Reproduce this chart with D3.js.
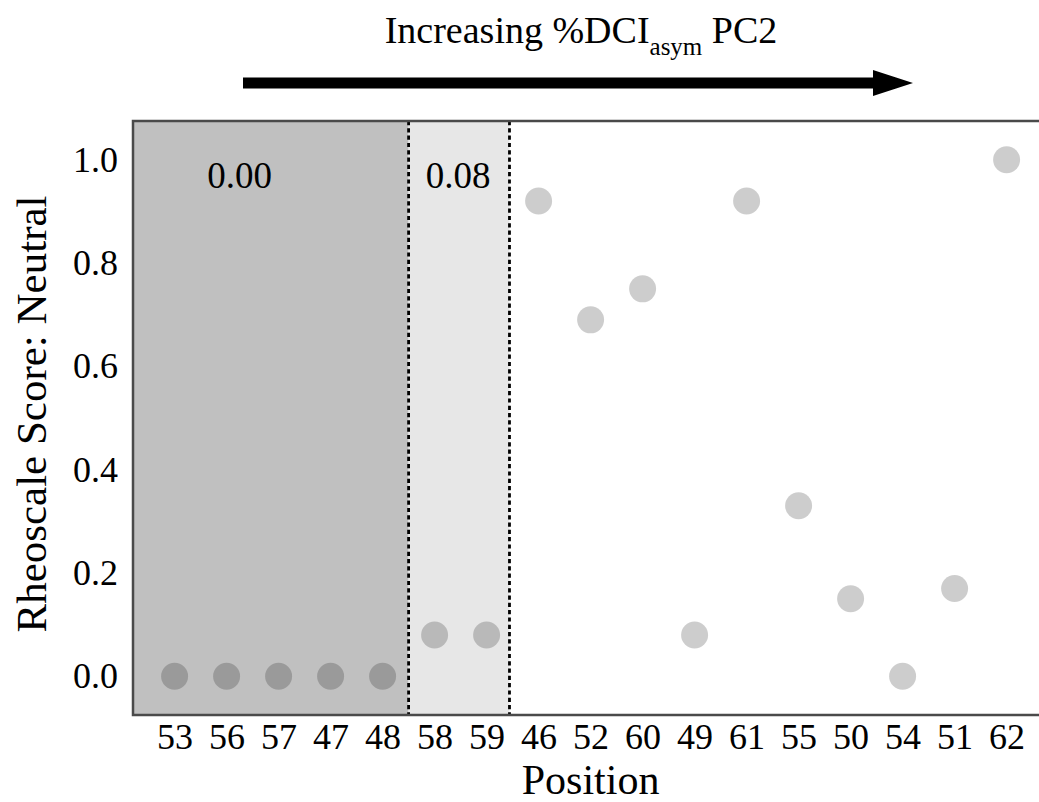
<!DOCTYPE html>
<head>
<style>
body { margin: 0; background: #fff; }
* { font-family: "Liberation Serif", "Times New Roman", serif; }
</style>
</head>
<body>
<svg width="1039" height="802"></svg>
<script src="https://cdnjs.cloudflare.com/ajax/libs/d3/7.8.5/d3.min.js"></script>
<script>

// positions, ordered by increasing %DCI_asym PC2
var positions = ["53","56","57","47","48","58","59","46","52","60","49","61","55","50","54","51","62"];
var scores    = [0, 0, 0, 0, 0, 0.08, 0.08, 0.92, 0.69, 0.75, 0.08, 0.92, 0.33, 0.15, 0, 0.17, 1.0];
var yTicks    = [0, 0.2, 0.4, 0.6, 0.8, 1.0];
// shaded groups: label and how many positions each covers
var groupLabels = ["0.00", "0.08"];
var groupSizes  = [5, 2];

var data = positions.map(function(p, i) { return {pos: p, i: i, score: scores[i]}; });

var svg = d3.select("svg");
var pLeft = 133, pTop = 121, pBottom = 715, step = 52;

var x = d3.scaleLinear()
    .domain([-0.8, positions.length - 1 + 0.8])
    .range([pLeft, pLeft + step * (positions.length - 1 + 1.6)]);
var y = d3.scaleLinear().domain([-0.075, 1.075]).range([pBottom, pTop]);

svg.append("clipPath").attr("id", "plotclip")
  .append("rect")
    .attr("x", pLeft).attr("y", pTop)
    .attr("width", x.range()[1] - pLeft).attr("height", pBottom - pTop);

var plot = svg.append("g").attr("clip-path", "url(#plotclip)");

// shaded regions
var fills = ["#c0c0c0", "#e7e7e7"];
var start = -0.8, acc = 0;
var bounds = groupSizes.map(function(n, k) {
  acc += n;
  var end = acc - 0.5 - (k == 1 ? 0.06 : 0);
  var b = {s: start, e: end, k: k};
  start = end;
  return b;
});

plot.selectAll(".region")
  .data(bounds)
  .enter().append("rect")
    .attr("class", "region")
    .attr("x", function(d) { return x(d.s); })
    .attr("y", pTop)
    .attr("width", function(d) { return x(d.e) - x(d.s); })
    .attr("height", pBottom - pTop)
    .attr("fill", function(d) { return fills[d.k]; });

plot.selectAll(".divider")
  .data(bounds)
  .enter().append("line")
    .attr("x1", function(d) { return x(d.e); })
    .attr("x2", function(d) { return x(d.e); })
    .attr("y1", pTop).attr("y2", pBottom)
    .attr("stroke", "#000")
    .attr("stroke-width", 2.8)
    .attr("stroke-dasharray", "4.2,3.1");

var labelX = [1.25, 5.45];
svg.selectAll(".glabel")
  .data(groupLabels)
  .enter().append("text")
    .attr("class", "glabel")
    .attr("x", function(d, k) { return x(labelX[k]); })
    .attr("y", y(0.946))
    .attr("text-anchor", "middle")
    .attr("font-size", 37)
    .text(function(d) { return d; });

// points
plot.selectAll(".dot")
  .data(data)
  .enter().append("circle")
    .attr("class", "dot")
    .attr("cx", function(d) { return x(d.i); })
    .attr("cy", function(d) { return y(d.score); })
    .attr("r", 13.5)
    .attr("fill", "#000")
    .attr("fill-opacity", 0.195);

// axes
var xAxis = svg.append("g")
    .attr("transform", "translate(0," + pBottom + ")")
    .call(d3.axisBottom(x)
      .tickValues(d3.range(positions.length))
      .tickFormat(function(i) { return positions[i]; })
      .tickSize(0).tickPadding(8));
xAxis.select(".domain").remove();
xAxis.selectAll("text").attr("font-size", 36).attr("fill", "#000")
    .attr("font-family", "Liberation Serif");

var yAxis = svg.append("g")
    .attr("transform", "translate(" + pLeft + ",0)")
    .call(d3.axisLeft(y).tickValues(yTicks).tickFormat(d3.format(".1f"))
      .tickSize(0).tickPadding(15));
yAxis.select(".domain").remove();
yAxis.selectAll("text").attr("font-size", 36).attr("fill", "#000")
    .attr("font-family", "Liberation Serif");

// frame (right side is cut off by the picture edge)
svg.append("path")
    .attr("d", "M" + 1045 + "," + pTop + "H" + pLeft + "V" + pBottom + "H" + 1045)
    .attr("fill", "none")
    .attr("stroke", "#4a4a4a")
    .attr("stroke-width", 2.5);

// axis titles
svg.append("text")
    .attr("x", (pLeft + x.range()[1]) / 2)
    .attr("y", 794)
    .attr("text-anchor", "middle")
    .attr("font-size", 42)
    .text("Position");

svg.append("text")
    .attr("transform", "translate(46,414) rotate(-90)")
    .attr("text-anchor", "middle")
    .attr("font-size", 43)
    .text("Rheoscale Score: Neutral");

// title with subscript and arrow
var title = svg.append("text")
    .attr("x", 581)
    .attr("y", 43)
    .attr("text-anchor", "middle")
    .attr("font-size", 38);
title.append("tspan").text("Increasing %DCI");
title.append("tspan").attr("font-size", 25).attr("dy", 12).text("asym");
title.append("tspan").attr("dy", -12).text(" PC2");

var ax0 = 243, ax1 = 913, ay = 83;
svg.append("path")
    .attr("d", "M" + ax0 + "," + (ay - 5.5) + "H" + (ax1 - 40) + "V" + (ay - 13) +
               "L" + ax1 + "," + ay + "L" + (ax1 - 40) + "," + (ay + 13) +
               "V" + (ay + 5.5) + "H" + ax0 + "Z")
    .attr("fill", "#000");

</script>
</body>
